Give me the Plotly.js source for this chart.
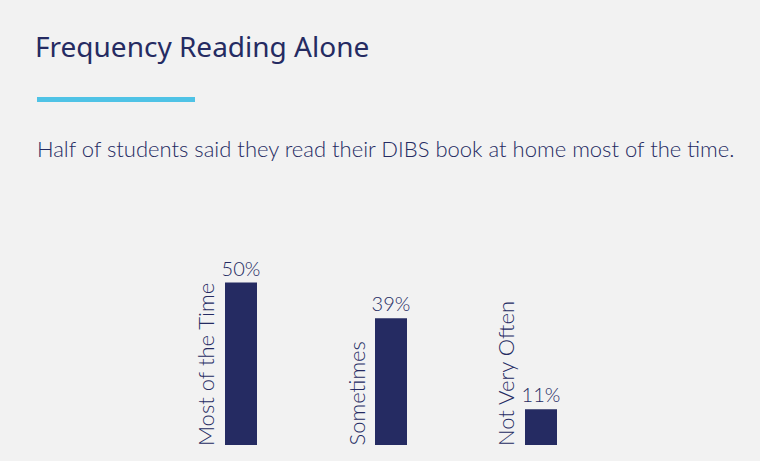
<!DOCTYPE html>
<html>
<head>
<meta charset="utf-8">
<script src="https://cdn.plot.ly/plotly-3.0.1.min.js"></script>
<style>
  html, body { margin: 0; padding: 0; background: #f2f2f2; }
  #chart { width: 760px; height: 461px; }
</style>
</head>
<body>
<div id="chart"></div>
<script>
const categories = ["Most of the Time", "Sometimes", "Not Very Often"];
const values = [50, 39, 11];
const valueLabels = ["50%", "39%", "11%"];
const titleText = "Frequency Reading Alone";
const subtitleText = "Half of students said they read their DIBS book at home most of the time.";

const W = 760, H = 461;
const M = { l: 166, r: 144, t: 250, b: 16 };
const PW = W - M.l - M.r, PH = H - M.t - M.b;
const px = x => (x - M.l) / PW;
const py = y => (H - M.b - y) / PH;

const navy = "#252b62";
const FONT = "Lato, 'Noto Sans', sans-serif";

const trace = {
  type: "bar",
  x: categories,
  y: values,
  text: valueLabels,
  textposition: "outside",
  constraintext: "none",
  cliponaxis: false,
  textfont: { family: FONT, size: 20, color: navy, weight: 300 },
  marker: { color: navy },
  hoverinfo: "none"
};

const annotations = categories.map(c => ({
  x: c, y: 0, xref: "x", yref: "y",
  text: c, showarrow: false, textangle: -90,
  xanchor: "right", yanchor: "bottom",
  xshift: -20, yshift: -3,
  font: { family: FONT, size: 22, color: navy, weight: 300 }
}));

annotations.push({
  x: px(35), y: py(148), xref: "paper", yref: "paper",
  xanchor: "left", yanchor: "middle", showarrow: false,
  text: subtitleText,
  font: { family: FONT, size: 22, color: navy, weight: 300 }
});

const layout = {
  width: W, height: H,
  margin: M,
  paper_bgcolor: "#f2f2f2",
  plot_bgcolor: "#f2f2f2",
  showlegend: false,
  title: {
    text: titleText,
    x: 35 / W, xanchor: "left", xref: "container",
    y: 1 - 47 / H, yanchor: "middle", yref: "container",
    font: { family: "'Noto Sans', sans-serif", size: 28, color: navy, weight: 400 }
  },
  bargap: 1 - 32 / (PW / 3),
  xaxis: { type: "category", range: [-0.5, 2.5], visible: false, fixedrange: true },
  yaxis: { range: [0, 60], visible: false, fixedrange: true },
  shapes: [{
    type: "rect", xref: "paper", yref: "paper",
    x0: px(37), x1: px(195), y0: py(102), y1: py(97),
    fillcolor: "#4fc3e6", line: { width: 0 }
  }],
  annotations: annotations
};

Plotly.newPlot("chart", [trace], layout, { displayModeBar: false, staticPlot: true });
</script>
</body>
</html>
